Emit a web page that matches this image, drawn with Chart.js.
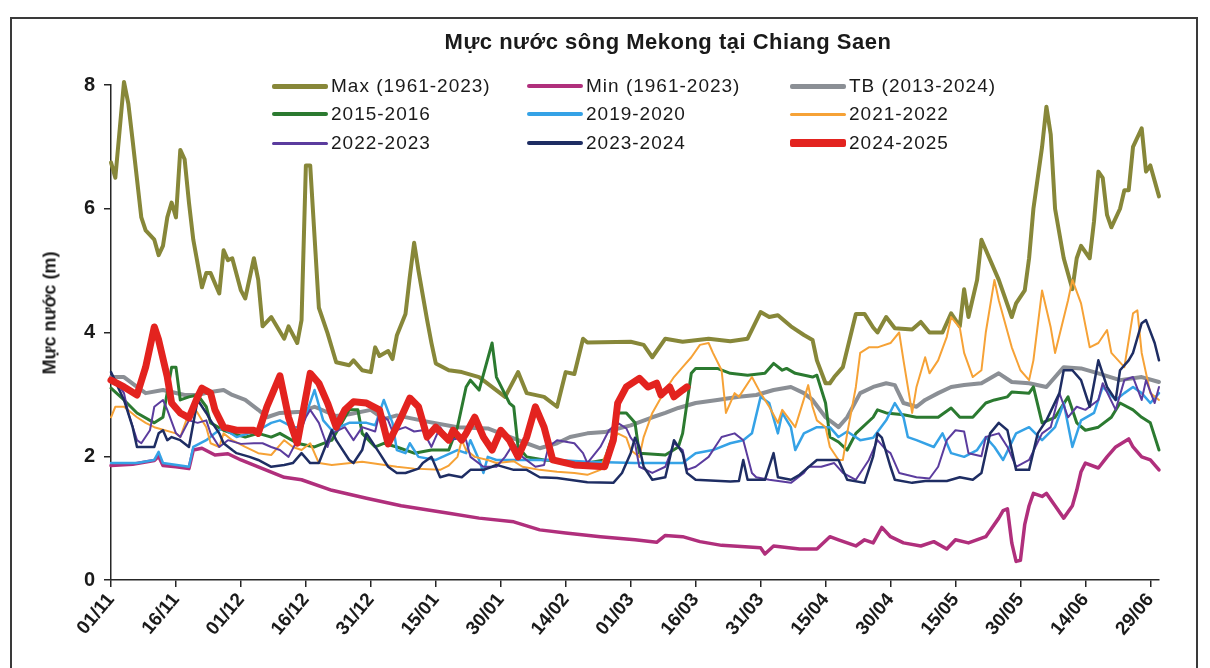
<!DOCTYPE html>
<html lang="vi">
<head>
<meta charset="UTF-8">
<title>Mực nước sông Mekong tại Chiang Saen</title>
<script src="https://cdn.jsdelivr.net/npm/chart.js"></script>
<style>
    body {
        margin: 0;
        background: #ffffff;
        font-family: 'Liberation Sans', Arial, sans-serif;
    }
    .page {
        position: relative;
        width: 1210px;
        height: 668px;
        overflow: hidden;
    }
    .frame {
        position: absolute;
        left: 10px;
        top: 17px;
        width: 1188px;
        height: 670px;
        border: 2px solid #3a3a3a;
        box-sizing: border-box;
    }
    .title {
        position: absolute;
        left: 668px;
        top: 29px;
        transform: translateX(-50%);
        font-weight: bold;
        font-size: 22px;
        letter-spacing: 0.5px;
        color: #1a1a1a;
        white-space: nowrap;
    }
    .ytitle {
        position: absolute;
        left: 50px;
        top: 313px;
        transform: translate(-50%, -50%) rotate(-90deg);
        font-weight: bold;
        font-size: 18px;
        color: #1a1a1a;
        white-space: nowrap;
    }
    .legend-item {
        position: absolute;
        display: flex;
        align-items: center;
        font-size: 19px;
        letter-spacing: 1px;
        color: #1a1a1a;
        white-space: nowrap;
        transform: translateY(-50%);
    }
    .legend-item span.swatch {
        display: inline-block;
        margin-right: 3px;
        border-radius: 2px;
    }
    #chart {
        position: absolute;
        left: 0;
        top: 0;
    }
</style>
</head>
<body>
<div class="page">
    <div class="frame"></div>
    <canvas id="chart" width="1210" height="668"></canvas>
    <div class="title">Mực nước sông Mekong tại Chiang Saen</div>
    <div class="ytitle">Mực nước (m)</div>
    <div id="legend"></div>
</div>

<script>
    // day 0 = 01/11, one tick every 15 days
    const tickLabels = ['01/11', '16/11', '01/12', '16/12', '31/12', '15/01', '30/01', '14/02', '01/03',
        '16/03', '31/03', '15/04', '30/04', '15/05', '30/05', '14/06', '29/06'];

    // Max (1961-2023)
    const maxDays = [0, 1, 3, 4, 5, 7, 8, 10, 11, 12,
        13, 14, 15, 16, 17, 18, 19, 21, 22, 23,
        25, 26, 27, 28, 30, 31, 33, 34, 35, 37,
        40, 41, 43, 44, 45, 46, 48, 50, 52, 55,
        56, 58, 60, 61, 62, 64, 65, 66, 68, 69,
        70, 71, 73, 74, 75, 78, 81, 85, 91, 94,
        96, 100, 103, 105, 107, 109, 110, 120, 123, 125,
        128, 132, 138, 143, 147, 150, 152, 154, 157, 160,
        162, 163, 165, 166, 167, 169, 172, 174, 176, 177,
        179, 181, 185, 187, 189, 192, 194, 196, 197, 198,
        200, 201, 205, 208, 209, 211, 212, 213, 215, 216,
        217, 218, 220, 222, 223, 224, 226, 227, 228, 229,
        230, 231, 233, 234, 235, 236, 238, 239, 240, 242];
    const maxLevels = [6.75, 6.5, 8.05, 7.7, 7.1, 5.86, 5.65, 5.5, 5.25, 5.4,
        5.86, 6.1, 5.86, 6.95, 6.8, 6.1, 5.5, 4.73, 4.96, 4.96,
        4.63, 5.33, 5.17, 5.2, 4.68, 4.55, 5.2, 4.85, 4.1, 4.25,
        3.9, 4.1, 3.83, 4.2, 6.7, 6.7, 4.4, 3.99, 3.52, 3.47,
        3.55, 3.39, 3.36, 3.76, 3.62, 3.7, 3.57, 3.95, 4.3, 4.9,
        5.45, 5.0, 4.2, 3.83, 3.5, 3.39, 3.36, 3.28, 2.96, 3.36,
        3.02, 2.96, 2.8, 3.36, 3.33, 3.9, 3.84, 3.85, 3.8, 3.6,
        3.9, 3.85, 3.9, 3.86, 3.9, 4.33, 4.25, 4.28, 4.1, 3.96,
        3.88, 3.55, 3.18, 3.18, 3.28, 3.44, 4.3, 4.3, 4.08, 4.0,
        4.25, 4.07, 4.05, 4.17, 4.0, 4.0, 4.31, 4.1, 4.7, 4.25,
        4.85, 5.5, 4.85, 4.25, 4.47, 4.68, 5.2, 6.0, 7.0, 7.65,
        7.2, 6.0, 5.2, 4.7, 5.2, 5.4, 5.2, 5.8, 6.6, 6.5,
        5.9, 5.7, 6.0, 6.3, 6.3, 7.0, 7.3, 6.6, 6.7, 6.2];

    // Min (1961-2023)
    const minDays = [0, 5, 10, 11, 12, 15, 18, 19, 21, 24,
        27, 30, 34, 40, 44, 51, 59, 67, 78, 85,
        93, 99, 105, 113, 121, 126, 128, 132, 136, 141,
        150, 151, 153, 159, 163, 166, 168, 172, 174, 176,
        178, 180, 183, 187, 190, 193, 195, 198, 202, 205,
        206, 207, 208, 209, 210, 211, 212, 213, 215, 216,
        218, 220, 222, 223, 224, 225, 228, 230, 232, 235,
        236, 238, 240, 242];
    const minLevels = [1.85, 1.87, 1.93, 2.0, 1.85, 1.83, 1.8, 2.1, 2.13, 2.02,
        2.04, 1.94, 1.83, 1.66, 1.62, 1.45, 1.32, 1.2, 1.08, 1.0,
        0.94, 0.81, 0.76, 0.7, 0.65, 0.61, 0.72, 0.7, 0.62, 0.56,
        0.52, 0.42, 0.55, 0.5, 0.5, 0.7, 0.65, 0.55, 0.65, 0.6,
        0.85, 0.7, 0.6, 0.55, 0.62, 0.5, 0.65, 0.6, 0.7, 1.0,
        1.12, 1.15, 0.6, 0.3, 0.32, 0.9, 1.2, 1.4, 1.35, 1.4,
        1.2, 1.0, 1.2, 1.45, 1.75, 1.89, 1.81, 1.99, 2.15, 2.28,
        2.15, 1.99, 1.94, 1.78];

    // TB (2013-2024)
    const tbDays = [0, 3, 6, 8, 12, 17, 20, 23, 26, 28,
        31, 34, 36, 39, 44, 47, 52, 55, 60, 63,
        66, 73, 80, 87, 94, 99, 103, 106, 110, 114,
        120, 125, 128, 131, 135, 140, 145, 149, 153, 157,
        160, 162, 165, 168, 170, 173, 176, 179, 181, 183,
        186, 188, 191, 194, 197, 201, 205, 208, 212, 216,
        220, 224, 228, 233, 238, 242];
    const tbLevels = [3.28, 3.28, 3.12, 3.02, 3.07, 2.99, 2.99, 3.04, 3.07, 2.99,
        2.91, 2.75, 2.63, 2.7, 2.72, 2.8, 2.65, 2.68, 2.75, 2.6,
        2.66, 2.56, 2.47, 2.45, 2.26, 2.13, 2.21, 2.31, 2.37, 2.39,
        2.5, 2.63, 2.7, 2.78, 2.86, 2.91, 2.96, 2.99, 3.07, 3.12,
        3.02, 2.91, 2.63, 2.47, 2.63, 3.02, 3.12, 3.18, 3.15, 2.86,
        2.8, 2.91, 3.02, 3.12, 3.15, 3.18, 3.34, 3.2, 3.18, 3.12,
        3.44, 3.42, 3.34, 3.23, 3.28, 3.2];

    // 2015-2016
    const y1516Days = [0, 3, 6, 10, 12, 14, 15, 16, 18, 20,
        22, 23, 26, 28, 31, 34, 37, 39, 43, 47,
        51, 55, 57, 58, 61, 63, 66, 70, 74, 78,
        80, 82, 83, 85, 88, 89, 92, 93, 94, 96,
        100, 110, 114, 116, 117, 119, 121, 122, 128, 131,
        132, 134, 135, 140, 143, 147, 151, 153, 155, 156,
        158, 162, 163, 165, 166, 168, 170, 172, 176, 177,
        179, 183, 186, 191, 194, 196, 199, 202, 204, 207,
        208, 212, 213, 215, 218, 221, 223, 225, 228, 231,
        233, 236, 238, 240, 242];
    const y1516Levels = [3.1, 2.91, 2.7, 2.54, 2.63, 3.44, 3.44, 2.91, 2.96, 2.99,
        2.8, 2.54, 2.42, 2.37, 2.31, 2.37, 2.31, 2.37, 2.21, 2.15,
        2.26, 2.75, 2.75, 2.37, 2.15, 2.21, 2.15, 2.05, 2.1, 2.1,
        2.47, 3.12, 3.23, 3.07, 3.83, 3.28, 2.86, 2.8, 2.15, 1.99,
        1.94, 1.89, 1.94, 2.37, 2.7, 2.7, 2.54, 2.05, 2.02, 2.15,
        2.37, 3.34, 3.42, 3.42, 3.34, 3.31, 3.34, 3.5, 3.39, 3.42,
        3.34, 3.28, 3.31, 2.86, 2.31, 2.23, 2.1, 2.37, 2.63, 2.75,
        2.7, 2.67, 2.63, 2.63, 2.78, 2.63, 2.63, 2.86, 2.91, 2.96,
        3.04, 3.02, 3.12, 2.54, 2.63, 2.96, 2.54, 2.42, 2.47, 2.63,
        2.86, 2.75, 2.63, 2.54, 2.1];

    // 2019-2020
    const y1920Days = [0, 6, 10, 11, 12, 18, 19, 22, 24, 26,
        27, 29, 34, 37, 39, 42, 44, 47, 49, 51,
        55, 59, 61, 63, 65, 66, 68, 69, 71, 75,
        80, 82, 83, 85, 86, 87, 89, 103, 110, 121,
        132, 135, 139, 143, 146, 148, 150, 152, 154, 155,
        157, 158, 160, 163, 166, 168, 170, 173, 176, 179,
        181, 183, 184, 186, 190, 192, 194, 197, 200, 202,
        204, 206, 209, 212, 215, 218, 220, 222, 224, 227,
        229, 232, 234, 236, 238, 240, 242];
    const y1920Levels = [1.89, 1.89, 1.94, 2.07, 1.89, 1.83, 2.15, 2.26, 2.37, 2.47,
        2.4, 2.31, 2.42, 2.54, 2.58, 2.47, 2.47, 3.07, 2.58, 2.42,
        2.54, 2.54, 2.5, 2.91, 2.54, 2.1, 2.05, 2.21, 1.99, 1.94,
        2.1, 2.05, 2.26, 1.94, 1.73, 1.99, 1.94, 1.94, 1.91, 1.89,
        1.89, 2.05, 2.1, 2.21, 2.26, 2.37, 2.96, 2.86, 2.37, 2.7,
        2.47, 2.1, 2.37, 2.47, 2.47, 2.31, 2.4, 2.26, 2.3, 2.58,
        2.86, 2.63, 2.31, 2.26, 2.15, 2.37, 2.05, 1.99, 2.1, 2.31,
        2.15, 1.94, 2.37, 2.47, 2.26, 2.47, 2.86, 2.15, 2.58, 2.7,
        3.12, 2.91, 3.02, 3.12, 3.02, 2.86, 3.02];

    // 2021-2022
    const y2122Days = [0, 1, 3, 6, 8, 10, 15, 16, 18, 19,
        20, 22, 23, 25, 26, 28, 31, 34, 37, 40,
        42, 44, 46, 48, 51, 58, 66, 70, 76, 78,
        80, 81, 82, 84, 87, 89, 93, 95, 99, 103,
        107, 110, 113, 114, 116, 117, 119, 120, 122, 123,
        125, 128, 130, 132, 134, 136, 138, 139, 141, 142,
        144, 145, 148, 150, 152, 154, 155, 158, 161, 162,
        163, 165, 166, 168, 169, 170, 172, 173, 175, 177,
        180, 182, 183, 184, 185, 186, 188, 189, 191, 193,
        194, 196, 197, 199, 201, 202, 204, 205, 208, 210,
        212, 213, 215, 217, 218, 221, 222, 224, 226, 228,
        230, 231, 234, 236, 237, 238, 240, 242];
    const y2122Levels = [2.63, 2.8, 2.8, 2.63, 2.54, 2.47, 2.37, 2.31, 2.7, 2.8,
        2.7, 2.47, 2.21, 2.15, 2.37, 2.26, 2.15, 2.05, 2.02, 2.26,
        2.15, 2.1, 2.21, 1.89, 1.86, 1.91, 1.83, 1.8, 1.78, 1.85,
        1.99, 2.26, 2.1, 1.99, 1.94, 1.89, 1.92, 1.83, 1.78, 1.75,
        1.73, 1.7, 1.78, 1.99, 2.26, 2.37, 2.3, 2.1, 1.99, 2.31,
        2.7, 3.07, 3.28, 3.44, 3.6, 3.8, 3.83, 3.67, 3.39, 2.7,
        3.02, 2.96, 3.28, 3.02, 2.8, 2.54, 2.75, 2.47, 3.15, 2.8,
        2.58, 2.47, 2.15, 1.94, 1.94, 2.37, 3.12, 3.67, 3.76, 3.76,
        3.83, 4.0, 3.55, 3.12, 2.7, 3.12, 3.6, 3.34, 3.55, 3.93,
        4.25, 4.08, 3.67, 3.28, 3.39, 4.0, 4.85, 4.52, 3.76, 3.39,
        3.23, 3.55, 4.68, 4.08, 3.67, 4.52, 4.85, 4.47, 3.76, 3.83,
        4.04, 3.67, 3.44, 4.31, 4.36, 3.67, 3.02, 2.91];

    // 2022-2023
    const y2223Days = [0, 3, 4, 6, 7, 9, 10, 12, 13, 15,
        16, 18, 20, 22, 23, 25, 27, 30, 33, 35,
        37, 39, 41, 43, 45, 46, 48, 50, 51, 54,
        56, 58, 61, 62, 64, 65, 68, 70, 72, 74,
        76, 78, 81, 82, 83, 86, 89, 91, 93, 95,
        98, 100, 101, 103, 107, 109, 110, 113, 115, 117,
        119, 120, 121, 122, 125, 128, 130, 132, 133, 135,
        138, 141, 144, 146, 148, 149, 152, 157, 160, 161,
        164, 167, 169, 172, 175, 177, 179, 180, 182, 186,
        189, 191, 193, 195, 197, 198, 201, 202, 205, 207,
        209, 212, 215, 217, 219, 221, 223, 225, 228, 229,
        232, 234, 236, 238, 239, 241, 242];
    const y2223Levels = [3.34, 3.02, 2.7, 2.26, 2.21, 2.42, 2.8, 2.91, 2.75, 2.37,
        2.31, 2.58, 2.54, 2.58, 2.37, 2.15, 2.26, 2.2, 2.21, 2.21,
        2.15, 2.1, 1.99, 2.26, 2.63, 2.75, 2.54, 2.15, 2.37, 2.47,
        2.26, 2.47, 2.4, 2.7, 2.58, 2.4, 2.47, 2.4, 2.42, 2.15,
        2.47, 2.26, 2.3, 2.26, 1.99, 1.83, 1.83, 1.99, 2.21, 1.99,
        1.83, 1.86, 2.15, 2.26, 2.21, 2.05, 1.89, 2.15, 2.42, 2.54,
        2.45, 2.3, 2.21, 1.83, 1.73, 1.83, 2.21, 2.1, 1.78, 1.83,
        1.99, 2.31, 2.37, 2.26, 1.73, 1.66, 1.62, 1.57, 1.73, 1.83,
        1.83, 1.89, 1.73, 1.62, 1.94, 2.26, 2.1, 2.05, 1.73, 1.66,
        1.64, 1.83, 2.26, 2.42, 2.4, 2.05, 2.0, 2.31, 2.37, 2.15,
        1.83, 1.94, 2.37, 2.47, 3.02, 2.63, 2.8, 2.75, 2.91, 3.18,
        2.75, 3.23, 3.28, 2.91, 3.23, 2.86, 3.12];

    // 2023-2024
    const y2324Days = [0, 3, 5, 6, 10, 11, 12, 13, 14, 16,
        18, 20, 22, 23, 25, 26, 28, 29, 32, 34,
        37, 40, 42, 44, 46, 48, 51, 52, 55, 56,
        58, 59, 62, 64, 66, 68, 71, 72, 74, 76,
        78, 81, 83, 86, 88, 89, 93, 96, 99, 103,
        110, 116, 118, 120, 121, 122, 123, 125, 128, 130,
        132, 133, 135, 143, 145, 146, 147, 151, 153, 154,
        157, 159, 163, 168, 170, 174, 176, 177, 178, 180,
        181, 185, 188, 193, 196, 199, 201, 203, 205, 207,
        209, 212, 214, 216, 219, 220, 222, 224, 226, 228,
        230, 232, 233, 235, 236, 238, 239, 241, 242];
    const y2324Levels = [3.36, 2.91, 2.47, 2.15, 2.15, 2.37, 2.42, 2.26, 2.31, 2.26,
        2.15, 2.91, 2.7, 2.58, 2.37, 2.21, 2.1, 2.05, 1.99, 1.94,
        1.83, 1.86, 1.89, 2.05, 1.89, 1.89, 2.42, 2.26, 1.94, 1.89,
        2.1, 2.37, 2.05, 1.83, 1.73, 1.73, 1.8, 1.89, 1.99, 1.66,
        1.7, 1.66, 1.78, 1.78, 1.83, 1.86, 1.78, 1.78, 1.66, 1.65,
        1.58, 1.57, 1.73, 2.05, 2.3, 2.15, 1.83, 1.62, 1.66, 2.26,
        2.05, 1.73, 1.62, 1.59, 1.6, 1.94, 1.62, 1.62, 2.05, 1.66,
        1.62, 1.7, 1.94, 1.94, 1.62, 1.57, 2.0, 2.37, 2.3, 1.83,
        1.62, 1.57, 1.6, 1.6, 1.66, 1.62, 1.73, 2.37, 2.54, 2.42,
        1.78, 1.78, 2.37, 2.58, 3.02, 3.39, 3.39, 3.23, 2.8, 3.55,
        3.12, 2.91, 3.39, 3.55, 3.67, 4.15, 4.2, 3.83, 3.55];

    // 2024-2025 (current season, stops mid March)
    const y2425Days = [0, 3, 6, 8, 10, 11, 13, 14, 16, 18,
        20, 21, 23, 24, 26, 29, 33, 34, 36, 39,
        41, 43, 46, 48, 50, 52, 54, 56, 59, 62,
        64, 67, 69, 71, 73, 75, 78, 79, 81, 82,
        84, 86, 88, 90, 92, 94, 96, 98, 100, 102,
        107, 114, 116, 117, 119, 122, 124, 126, 127, 129,
        130, 132, 133];
    const y2425Levels = [3.23, 3.12, 2.99, 3.44, 4.09, 3.88, 3.28, 2.86, 2.7, 2.62,
        2.96, 3.1, 3.02, 2.75, 2.47, 2.42, 2.42, 2.37, 2.8, 3.3,
        2.63, 2.21, 3.34, 3.18, 2.86, 2.47, 2.75, 2.88, 2.86, 2.75,
        2.2, 2.63, 2.94, 2.8, 2.31, 2.47, 2.26, 2.42, 2.26, 2.37,
        2.63, 2.31, 2.1, 2.42, 2.26, 1.99, 2.31, 2.8, 2.47, 1.94,
        1.86, 1.83, 2.26, 2.86, 3.12, 3.26, 3.12, 3.18, 2.99, 3.12,
        2.96, 3.07, 3.12];

    function toPoints(days, levels) {
        return days.map((d, i) => ({ x: d, y: levels[i] }));
    }

    // Excel draws later series on top, so lower "order" for later entries
    const seriesList = [
        { label: 'Max (1961-2023)', days: maxDays, levels: maxLevels, color: '#878739', width: 4 },
        { label: 'Min (1961-2023)', days: minDays, levels: minLevels, color: '#b02f7c', width: 3.5 },
        { label: 'TB (2013-2024)', days: tbDays, levels: tbLevels, color: '#8b8f95', width: 4 },
        { label: '2015-2016', days: y1516Days, levels: y1516Levels, color: '#2b7a30', width: 3 },
        { label: '2019-2020', days: y1920Days, levels: y1920Levels, color: '#35a2e6', width: 2.5 },
        { label: '2021-2022', days: y2122Days, levels: y2122Levels, color: '#f6a236', width: 2 },
        { label: '2022-2023', days: y2223Days, levels: y2223Levels, color: '#5b3c9e', width: 2 },
        { label: '2023-2024', days: y2324Days, levels: y2324Levels, color: '#1e2d63', width: 2.5 },
        { label: '2024-2025', days: y2425Days, levels: y2425Levels, color: '#e3231f', width: 7 }
    ];

    const datasets = seriesList.map((s, i) => ({
        label: s.label,
        data: toPoints(s.days, s.levels),
        borderColor: s.color,
        backgroundColor: s.color,
        borderWidth: s.width,
        pointRadius: 0,
        tension: 0,
        fill: false,
        clip: false,
        borderJoinStyle: 'round',
        borderCapStyle: 'round',
        order: seriesList.length - i
    }));

    const axisColor = '#262626';
    const tickFont = { family: "'Liberation Sans', Arial, sans-serif", weight: 'bold' };

    new Chart(document.getElementById('chart').getContext('2d'), {
        type: 'line',
        data: { datasets: datasets },
        options: {
            responsive: false,
            animation: false,
            devicePixelRatio: 1,
            layout: { padding: { left: 28, right: 51, top: 85, bottom: 10 } },
            plugins: {
                legend: { display: false },
                tooltip: { enabled: false }
            },
            scales: {
                x: {
                    type: 'linear',
                    min: 0,
                    max: 242,
                    afterFit: (scale) => { scale.height = 78; },
                    ticks: {
                        stepSize: 15,
                        includeBounds: false,
                        autoSkip: false,
                        minRotation: 50,
                        maxRotation: 50,
                        padding: 2,
                        color: '#1a1a1a',
                        font: { ...tickFont, size: 19 },
                        callback: (v) => tickLabels[Math.round(v / 15)]
                    },
                    grid: { drawOnChartArea: false, drawTicks: true, tickLength: 7, color: axisColor, lineWidth: 1.5 },
                    border: { display: true, color: axisColor, width: 1.5 }
                },
                y: {
                    min: 0,
                    max: 8,
                    afterFit: (scale) => { scale.width = 83; },
                    ticks: {
                        stepSize: 2,
                        padding: 9,
                        color: '#1a1a1a',
                        font: { ...tickFont, size: 20 }
                    },
                    grid: { drawOnChartArea: false, drawTicks: true, tickLength: 7, color: axisColor, lineWidth: 1.5 },
                    border: { display: true, color: axisColor, width: 1.5 }
                }
            }
        }
    });

    // legend laid out like the Excel one: 3 columns x 3 rows inside the plot
    const legendCols = [272, 527, 790];
    const legendRows = [86, 114, 143];
    const legendBox = document.getElementById('legend');
    seriesList.forEach((s, i) => {
        const item = document.createElement('div');
        item.className = 'legend-item';
        item.style.left = legendCols[i % 3] + 'px';
        item.style.top = legendRows[Math.floor(i / 3)] + 'px';
        const sw = document.createElement('span');
        sw.className = 'swatch';
        sw.style.width = '56px';
        sw.style.height = Math.max(3, s.width + 1) + 'px';
        sw.style.background = s.color;
        const txt = document.createElement('span');
        txt.textContent = s.label;
        item.appendChild(sw);
        item.appendChild(txt);
        legendBox.appendChild(item);
    });
</script>
</body>
</html>
